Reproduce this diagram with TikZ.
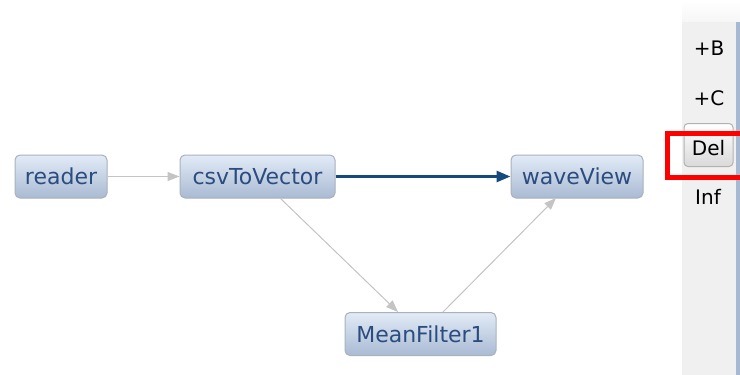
\documentclass[tikz,border=0pt]{standalone}
\usepackage{fontspec}
\setmainfont{DejaVu Sans}
\usetikzlibrary{arrows.meta}
\definecolor{nodetxt}{HTML}{2B4C7E}
\definecolor{nodetop}{HTML}{E2EBF7}
\definecolor{nodebot}{HTML}{A9BAD3}
\definecolor{nodeedge}{HTML}{A9B1BD}
\definecolor{lightedge}{HTML}{C4C4C4}
\definecolor{darkedge}{HTML}{154A7C}
\definecolor{panel}{HTML}{F0F0F0}
\definecolor{panelline}{HTML}{A7B8D2}
\tikzset{
  block/.style={draw=nodeedge, line width=1pt, rounded corners=5pt,
    top color=nodetop, bottom color=nodebot, text=nodetxt,
    font=\fontsize{22}{26}\selectfont, minimum height=43pt, inner xsep=0pt, anchor=center},
  lite/.style={draw=lightedge, line width=1pt, -{Triangle[length=12pt,width=9pt,fill=lightedge]}},
  heavy/.style={draw=darkedge, line width=2.8pt, -{Triangle[length=14pt,width=11pt,fill=darkedge]}},
  sidelbl/.style={font=\fontsize{20}{24}\selectfont, text=black, inner sep=0pt}
}
\begin{document}
\begin{tikzpicture}[x=1pt,y=-1pt]
\useasboundingbox (0,0) rectangle (740,375);
\fill[white] (0,0) rectangle (740,375);
% side panel
\fill[top color=white, bottom color=panel!60] (682,0) rectangle (740,22);
\fill[panel] (682,22) rectangle (740,375);
\fill[panelline] (736,22) rectangle (740,375);
\node[sidelbl] (b) at (709,48) {+B};
\node[sidelbl] (c) at (709,98) {+C};
\node[draw=gray!60, line width=1pt, rounded corners=4pt, top color=white, bottom color=panel!80!gray, minimum width=49pt, minimum height=43pt, inner sep=0pt] (delbtn) at (708.5,145) {};
\node[sidelbl] (del) at (708.5,148) {Del};
\node[sidelbl] (inf) at (708,197) {Inf};
\draw[red, line width=5pt] (667.5,133.5) rectangle (745,177.5);
% nodes
\node[block, minimum width=92pt] (reader) at (61,176.5) {reader};
\node[block, minimum width=155pt] (csv) at (257.5,176.5) {csvToVector};
\node[block, minimum width=132pt] (wave) at (577,176.5) {waveView};
\node[block, minimum width=151pt] (mean) at (420.5,334) {MeanFilter1};
% edges
\draw[lite] (reader.east) -- (csv.west);
\draw[heavy] (csv.east) -- (wave.west);
\draw[lite] (280,198) coordinate (s1) -- (398,312) coordinate (e1);
\draw[lite] (443,312) coordinate (s2) -- (556,198) coordinate (e2);
\end{tikzpicture}
\end{document}
